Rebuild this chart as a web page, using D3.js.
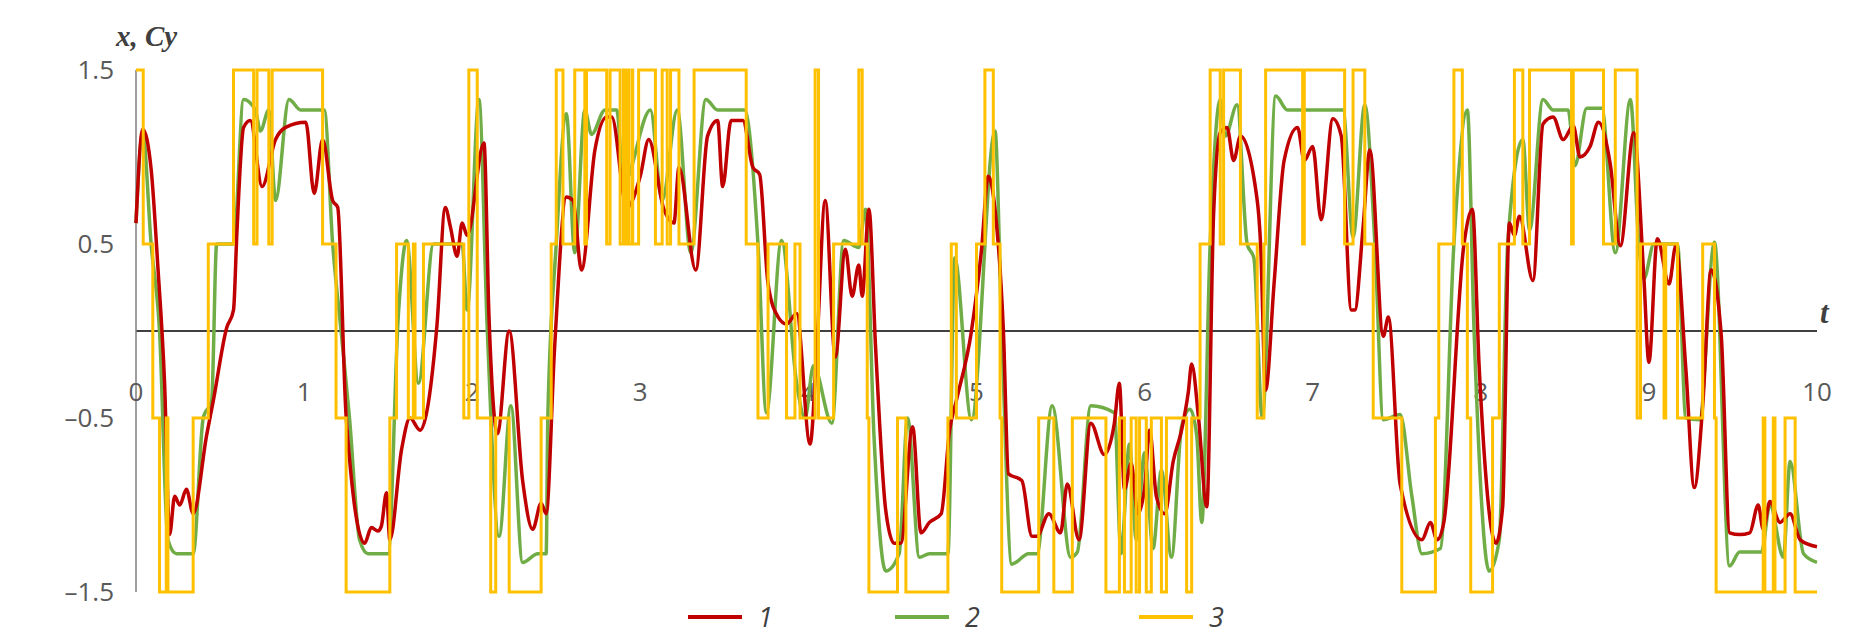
<!DOCTYPE html>
<html>
<head>
<meta charset="utf-8">
<script src="https://cdn.jsdelivr.net/npm/d3@7"></script>
<style>
  body { margin: 0; background: #fff; }
  text { font-family: "Open Sans", "Noto Sans", sans-serif; }
</style>
</head>
<body>
<div id="vis-container"></div>
<script>
// tick labels
var yTicks = [1.5, 0.5, -0.5, -1.5];
var xTicks = [0, 1, 2, 3, 4, 5, 6, 7, 8, 9, 10];
var legendNames = ["1", "2", "3"];

// series 1 (red) : [t, x]
var series1 = [[0,0.62],[0.04,1.16],[0.09,0.93],[0.13,0.37],[0.17,-0.3],[0.2,-1.17],[0.23,-0.95],[0.26,-1.0],[0.3,-0.91],[0.34,-1.05],[0.42,-0.6],[0.46,-0.4],[0.54,0.02],[0.58,0.12],[0.6,0.56],[0.64,1.17],[0.68,1.21],[0.75,0.83],[0.83,1.1],[0.89,1.17],[1.01,1.2],[1.06,0.79],[1.11,1.1],[1.17,0.75],[1.2,0.71],[1.25,-0.49],[1.36,-1.22],[1.4,-1.13],[1.44,-1.15],[1.46,-1.12],[1.49,-0.93],[1.51,-1.2],[1.58,-0.68],[1.63,-0.5],[1.69,-0.57],[1.79,0.03],[1.84,0.71],[1.87,0.6],[1.91,0.43],[1.94,0.62],[1.97,0.55],[2.07,1.08],[2.1,0.08],[2.15,-0.59],[2.22,0.0],[2.3,-0.86],[2.36,-1.14],[2.41,-0.99],[2.44,-1.05],[2.49,-0.1],[2.56,0.77],[2.6,0.75],[2.65,0.35],[2.73,1.04],[2.8,1.23],[2.83,1.23],[2.92,0.71],[3.0,0.89],[3.05,1.1],[3.14,0.7],[3.2,0.62],[3.23,0.94],[3.33,0.35],[3.4,1.12],[3.46,1.21],[3.49,0.83],[3.54,1.21],[3.61,1.21],[3.67,0.94],[3.71,0.9],[3.76,0.27],[3.82,0.08],[3.87,0.04],[3.93,0.1],[4.01,-0.65],[4.05,-0.1],[4.1,0.75],[4.16,-0.15],[4.22,0.47],[4.26,0.2],[4.3,0.38],[4.32,0.2],[4.36,0.7],[4.4,-0.1],[4.46,-1.03],[4.51,-1.22],[4.55,-1.22],[4.62,-0.55],[4.67,-1.16],[4.72,-1.1],[4.79,-1.05],[4.84,-0.57],[4.88,-0.4],[4.97,0.0],[5.03,0.47],[5.07,0.89],[5.11,0.7],[5.16,0.0],[5.19,-0.82],[5.27,-0.86],[5.33,-1.18],[5.36,-1.18],[5.43,-1.05],[5.5,-1.16],[5.54,-0.88],[5.61,-1.2],[5.68,-0.53],[5.76,-0.71],[5.82,-0.53],[5.85,-0.3],[5.88,-0.91],[5.92,-0.76],[5.96,-1.05],[6.0,-0.9],[6.03,-0.57],[6.07,-0.95],[6.12,-1.05],[6.17,-0.75],[6.22,-0.57],[6.26,-0.35],[6.28,-0.19],[6.32,-0.49],[6.37,-1.01],[6.41,0.66],[6.45,1.14],[6.49,1.17],[6.53,0.98],[6.57,1.12],[6.67,0.75],[6.69,0.5],[6.72,-0.34],[6.77,0.27],[6.83,0.98],[6.91,1.17],[6.95,0.98],[7.0,1.06],[7.05,0.64],[7.12,1.22],[7.17,1.12],[7.23,0.12],[7.25,0.12],[7.3,0.6],[7.34,1.04],[7.42,-0.03],[7.45,0.08],[7.52,-0.88],[7.65,-1.2],[7.7,-1.1],[7.74,-1.2],[7.78,-1.1],[7.9,0.5],[7.95,0.7],[7.99,-0.2],[8.09,-1.22],[8.13,-1.01],[8.17,0.62],[8.2,0.55],[8.23,0.66],[8.31,0.29],[8.37,1.19],[8.43,1.23],[8.49,1.1],[8.55,1.18],[8.59,1.0],[8.65,1.06],[8.7,1.2],[8.77,0.96],[8.83,0.49],[8.91,1.14],[8.97,0.31],[9.0,-0.18],[9.05,0.53],[9.12,0.27],[9.16,0.49],[9.22,-0.22],[9.27,-0.9],[9.32,-0.43],[9.37,0.35],[9.43,-0.02],[9.48,-1.16],[9.54,-1.17],[9.6,-1.16],[9.65,-1.0],[9.68,-1.14],[9.72,-0.98],[9.78,-1.1],[9.84,-1.05],[9.9,-1.2],[10,-1.24]];

// series 2 (green) : [t, x]
var series2 = [[0,0.62],[0.04,1.14],[0.09,0.5],[0.14,0.0],[0.19,-1.2],[0.24,-1.28],[0.34,-1.28],[0.4,-0.5],[0.45,-0.4],[0.48,0.5],[0.58,0.5],[0.64,1.33],[0.71,1.27],[0.74,1.15],[0.79,1.27],[0.83,0.75],[0.91,1.33],[0.98,1.27],[1.12,1.27],[1.17,0.5],[1.22,0.0],[1.27,-0.5],[1.33,-1.2],[1.38,-1.28],[1.5,-1.28],[1.56,0.08],[1.61,0.52],[1.68,-0.3],[1.77,0.5],[1.94,0.5],[1.97,0.12],[2.04,1.33],[2.09,0.0],[2.16,-1.18],[2.23,-0.43],[2.3,-1.33],[2.39,-1.28],[2.44,-1.28],[2.45,-0.49],[2.5,0.5],[2.56,1.25],[2.61,0.45],[2.67,1.27],[2.71,1.13],[2.79,1.27],[2.86,1.27],[2.9,0.85],[3.06,1.27],[3.13,0.75],[3.22,1.27],[3.3,0.45],[3.39,1.33],[3.46,1.27],[3.62,1.27],[3.7,0.5],[3.75,-0.47],[3.84,0.52],[3.93,-0.3],[3.98,-0.5],[4.03,-0.2],[4.14,-0.53],[4.21,0.52],[4.3,0.48],[4.34,0.7],[4.39,-0.6],[4.46,-1.38],[4.54,-1.28],[4.59,-0.5],[4.66,-1.3],[4.72,-1.28],[4.83,-1.28],[4.87,0.42],[4.97,-0.51],[5.11,1.15],[5.15,0.0],[5.21,-1.34],[5.31,-1.28],[5.36,-1.28],[5.45,-0.43],[5.56,-1.3],[5.6,-1.27],[5.68,-0.43],[5.82,-0.47],[5.86,-1.28],[5.91,-0.65],[5.95,-1.2],[6.0,-0.7],[6.05,-1.25],[6.1,-0.8],[6.16,-1.3],[6.22,-0.55],[6.27,-0.45],[6.31,-0.6],[6.34,-1.1],[6.39,0.5],[6.45,1.33],[6.48,1.12],[6.55,1.3],[6.61,0.5],[6.65,0.42],[6.7,-0.5],[6.78,1.35],[6.85,1.27],[7.18,1.27],[7.24,0.54],[7.31,1.3],[7.37,0.5],[7.42,-0.51],[7.52,-0.48],[7.59,-0.95],[7.65,-1.28],[7.76,-1.25],[7.84,0.5],[7.92,1.27],[7.96,0.0],[8.05,-1.38],[8.11,-1.2],[8.16,0.5],[8.25,1.1],[8.29,0.58],[8.37,1.33],[8.43,1.27],[8.52,1.27],[8.56,0.95],[8.63,1.28],[8.72,1.28],[8.8,0.45],[8.89,1.33],[8.94,0.5],[8.97,0.3],[9.03,0.5],[9.17,0.5],[9.22,-0.5],[9.3,-0.51],[9.39,0.51],[9.48,-1.35],[9.54,-1.27],[9.67,-1.27],[9.72,-1.0],[9.8,-1.3],[9.84,-0.75],[9.92,-1.28],[10,-1.33]];

// series 3 (yellow, step) : [t, Cy]
var series3 = [[0,1.5],[0.043,0.5],[0.1,-0.5],[0.14,-1.5],[0.18,-0.5],[0.19,-1.5],[0.34,-0.5],[0.43,0.5],[0.58,1.5],[0.7,0.5],[0.72,1.5],[0.79,0.5],[0.81,1.5],[1.11,0.5],[1.19,-0.5],[1.25,-1.5],[1.51,-0.5],[1.55,0.5],[1.62,-0.5],[1.65,0.5],[1.66,-0.5],[1.71,0.5],[1.95,-0.5],[1.98,1.5],[2.03,-0.5],[2.11,-1.5],[2.14,-0.5],[2.22,-1.5],[2.41,-0.5],[2.47,0.5],[2.5,1.5],[2.54,0.5],[2.61,1.5],[2.67,0.5],[2.68,1.5],[2.8,0.5],[2.82,1.5],[2.88,0.5],[2.9,1.5],[2.91,0.5],[2.92,1.5],[2.93,0.5],[2.95,1.5],[2.955,0.5],[2.99,1.5],[3.09,0.5],[3.13,1.5],[3.16,0.5],[3.18,1.5],[3.23,0.5],[3.32,1.5],[3.63,0.5],[3.7,-0.5],[3.76,0.5],[3.87,-0.5],[3.92,0.5],[3.95,-0.5],[4.04,1.5],[4.06,-0.5],[4.15,0.5],[4.3,1.5],[4.32,0.5],[4.35,-0.5],[4.36,-1.5],[4.53,-0.5],[4.58,-1.5],[4.83,-0.5],[4.85,0.5],[4.88,-0.5],[5.0,0.5],[5.05,1.5],[5.1,0.5],[5.14,-0.5],[5.15,-1.5],[5.37,-0.5],[5.46,-1.5],[5.57,-0.5],[5.77,-1.5],[5.85,-0.5],[5.88,-1.5],[5.92,-0.5],[5.95,-1.5],[5.97,-0.5],[6.01,-1.5],[6.04,-0.5],[6.1,-1.5],[6.13,-0.5],[6.25,-1.5],[6.28,-0.5],[6.33,0.5],[6.39,1.5],[6.45,0.5],[6.47,1.5],[6.57,0.5],[6.67,-0.5],[6.71,0.5],[6.72,1.5],[6.94,0.5],[6.95,1.5],[7.19,0.5],[7.24,1.5],[7.31,0.5],[7.36,-0.5],[7.53,-1.5],[7.73,-0.5],[7.75,0.5],[7.84,1.5],[7.89,0.5],[7.92,-0.5],[7.94,-1.5],[8.07,-0.5],[8.11,0.5],[8.2,1.5],[8.25,0.5],[8.29,1.5],[8.54,0.5],[8.55,1.5],[8.73,0.5],[8.8,1.5],[8.93,-0.5],[8.95,0.5],[9.09,-0.5],[9.1,0.5],[9.17,-0.5],[9.32,0.5],[9.39,-0.5],[9.4,-1.5],[9.68,-0.5],[9.69,-1.5],[9.74,-0.5],[9.75,-1.5],[9.81,-0.5],[9.87,-1.5],[10,-1.5]];

var colors = ["#C00000", "#70AD47", "#FFC000"];

var width = 1850, height = 640;
var svg = d3.select("#vis-container")
	.append("svg")
	.attr("width", width)
	.attr("height", height);

var xScale = d3.scaleLinear().domain([0, 10]).range([136, 1817]);
var yScale = d3.scaleLinear().domain([-1.5, 1.5]).range([592, 70]);

// zero line (time axis)
svg.append("line")
	.attr("x1", xScale(0)).attr("x2", xScale(10))
	.attr("y1", yScale(0)).attr("y2", yScale(0))
	.attr("stroke", "#000").attr("stroke-width", 1.5);

// vertical axis
svg.append("line")
	.attr("x1", xScale(0)).attr("x2", xScale(0))
	.attr("y1", yScale(1.5)).attr("y2", yScale(-1.5))
	.attr("stroke", "#7f7f7f").attr("stroke-width", 1.5);

// y tick labels
svg.selectAll(".ylab")
	.data(yTicks)
	.enter().append("text")
	.attr("x", 114)
	.attr("y", function (d) { return yScale(d) + 9; })
	.style("text-anchor", "end")
	.style("font-size", "26px")
	.style("fill", "#595959")
	.text(function (d) { return d < 0 ? "\u2013" + Math.abs(d) : d; });

// x tick labels
svg.selectAll(".xlab")
	.data(xTicks)
	.enter().append("text")
	.attr("x", function (d) { return xScale(d); })
	.attr("y", yScale(0) + 70)
	.style("text-anchor", "middle")
	.style("font-size", "26px")
	.style("fill", "#595959")
	.text(function (d) { return d; });

// axis titles
svg.append("text")
	.attr("x", 116).attr("y", 46)
	.style("font-family", "'Liberation Serif', serif")
	.style("font-style", "italic").style("font-weight", "bold")
	.style("font-size", "29px").style("fill", "#404040")
	.text("x, Cy");
svg.append("text")
	.attr("x", 1820).attr("y", yScale(0) - 8)
	.style("font-family", "'Liberation Serif', serif")
	.style("font-style", "italic").style("font-weight", "bold")
	.style("font-size", "31px").style("fill", "#404040")
	.text("t");

var line = d3.line()
	.x(function (d) { return xScale(d[0]); })
	.y(function (d) { return yScale(d[1]); })
	.curve(d3.curveMonotoneX);
var stepLine = d3.line()
	.x(function (d) { return xScale(d[0]); })
	.y(function (d) { return yScale(d[1]); })
	.curve(d3.curveStepAfter);

svg.append("path").datum(series2)
	.attr("fill", "none").attr("stroke", colors[1]).attr("stroke-width", 3.5)
	.attr("stroke-linejoin", "round").attr("d", line);
svg.append("path").datum(series1)
	.attr("fill", "none").attr("stroke", colors[0]).attr("stroke-width", 3.5)
	.attr("stroke-linejoin", "round").attr("d", line);
svg.append("path").datum(series3)
	.attr("fill", "none").attr("stroke", colors[2]).attr("stroke-width", 3)
	.attr("d", stepLine);

// legend
var legendX = [688, 895, 1139];
var legend = svg.selectAll(".leg")
	.data(legendNames)
	.enter().append("g")
	.attr("transform", function (d, i) { return "translate(" + legendX[i] + ",617)"; });
legend.append("line")
	.attr("x1", 0).attr("x2", 54).attr("y1", 0).attr("y2", 0)
	.attr("stroke", function (d, i) { return colors[i]; })
	.attr("stroke-width", 4);
legend.append("text")
	.attr("x", 70).attr("y", 10)
	.style("font-style", "italic")
	.style("font-size", "27px").style("fill", "#404040")
	.text(function (d) { return d; });
</script>
</body>
</html>
